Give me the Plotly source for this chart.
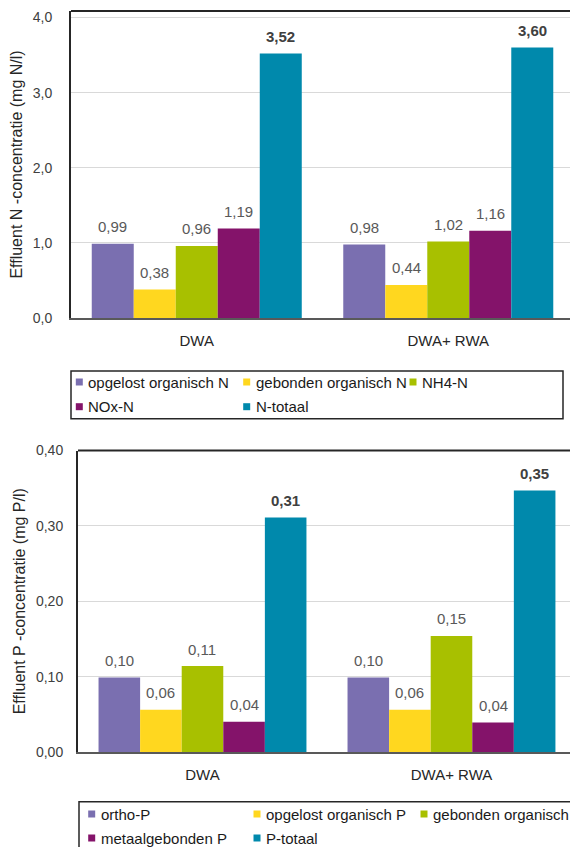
import plotly.graph_objects as go

# ---------------- data ----------------
categories = ["DWA", "DWA+ RWA"]

n_series = ["opgelost organisch N", "gebonden organisch N", "NH4-N", "NOx-N", "N-totaal"]
n_dwa = [0.99, 0.38, 0.96, 1.19, 3.52]
n_dwa_rwa = [0.98, 0.44, 1.02, 1.16, 3.60]

p_series = ["ortho-P", "opgelost organisch P", "gebonden organisch P", "metaalgebonden P", "P-totaal"]
p_dwa = [0.099, 0.056, 0.114, 0.040, 0.311]
p_dwa_rwa = [0.099, 0.056, 0.154, 0.039, 0.347]

n_ticks = [0, 1, 2, 3, 4]
p_ticks = [0.0, 0.1, 0.2, 0.3, 0.4]

colors = ["#7A6FB0", "#FFD71F", "#A8C000", "#84136A", "#0089AC"]

# ---------------- layout constants ----------------
W, H = 570, 847
FONT = "Liberation Sans, Arial, sans-serif"
BARGAP = 0.165


def px(x):
    return x / W


def py(y):
    return 1 - y / H


top = dict(left=71, top=11, bottom=318, yrange=[0, 4.087], xrange=[-0.5, 1.484])
bot = dict(left=78, top=450.5, bottom=752, yrange=[0, 0.40], xrange=[-0.5, 1.476])

fig = go.Figure()

panels = [
    (top, "x", "y", n_series, [n_dwa, n_dwa_rwa], "{:.2f}"),
    (bot, "x2", "y2", p_series, [p_dwa, p_dwa_rwa], "{:.2f}"),
]

annotations = []
for cfg, xa, ya, names, vals, fmt in panels:
    plot_w = W * (1 - px(cfg["left"]))
    cat_px = plot_w / (cfg["xrange"][1] - cfg["xrange"][0])
    bar_px = cat_px * (1 - BARGAP) / len(names)
    for i, name in enumerate(names):
        ys = [vals[0][i], vals[1][i]]
        fig.add_trace(go.Bar(
            x=categories, y=ys, name=name, xaxis=xa, yaxis=ya,
            marker=dict(color=colors[i], line=dict(width=0)),
            showlegend=False,
        ))
        for c, v in zip(categories, ys):
            bold = i == len(names) - 1
            txt = fmt.format(v).replace(".", ",")
            annotations.append(dict(
                x=c, y=v, xref=xa, yref=ya,
                xshift=(i - (len(names) - 1) / 2) * bar_px, yshift=17,
                text=f"<b>{txt}</b>" if bold else txt,
                showarrow=False, yanchor="middle", xanchor="center",
                font=dict(family=FONT, size=15, color="#404040" if bold else "#595959"),
            ))

shapes = []
# top frame lines
for cfg in (top, bot):
    shapes.append(dict(type="line", xref="paper", yref="paper",
                       x0=px(cfg["left"]), x1=1.02, y0=py(cfg["top"]), y1=py(cfg["top"]),
                       line=dict(color="#262626", width=2)))

# ---------------- custom legends ----------------
legends = [
    dict(names=n_series, box=(71, 371, 563, 418.7), rows=[382, 406.7],
         cols=[79.3, 246.7, 413]),
    dict(names=p_series, box=(79, 801.7, 600, 870), rows=[814, 838],
         cols=[91.7, 257, 424]),
]
for lg in legends:
    x0, y0, x1, y1 = lg["box"]
    shapes.append(dict(type="rect", xref="paper", yref="paper",
                       x0=px(x0), x1=px(x1), y0=py(y0), y1=py(y1),
                       line=dict(color="#262626", width=1.5), fillcolor="rgba(0,0,0,0)"))
    for k, name in enumerate(lg["names"]):
        r, c = divmod(k, 3)
        cx, cy = lg["cols"][c], lg["rows"][r]
        shapes.append(dict(type="rect", xref="paper", yref="paper",
                           x0=px(cx - 3.5), x1=px(cx + 3.5), y0=py(cy - 3.5), y1=py(cy + 3.5),
                           line=dict(width=0), fillcolor=colors[k]))
        annotations.append(dict(
            x=px(cx + 7), y=py(cy), xref="paper", yref="paper",
            text=name, showarrow=False, xanchor="left", yanchor="middle",
            font=dict(family=FONT, size=15, color="#1A1A1A"),
        ))

axis_common = dict(showgrid=False, zeroline=False, fixedrange=True,
                   tickfont=dict(family=FONT, size=15, color="#262626"),
                   showline=True, linecolor="#595959", linewidth=2,
                   ticks="", ticklabelstandoff=8)
yaxis_common = dict(showgrid=True, gridcolor="#D9D9D9", gridwidth=1, zeroline=False,
                    showline=True, linecolor="#262626", linewidth=2, ticks="",
                    fixedrange=True,
                    tickfont=dict(family=FONT, size=14, color="#404040"))

fig.update_layout(
    width=W, height=H,
    margin=dict(l=0, r=0, t=0, b=0, pad=0, autoexpand=False),
    paper_bgcolor="white", plot_bgcolor="white",
    separators=",.",
    barmode="group", bargap=BARGAP, bargroupgap=0,
    showlegend=False,
    hovermode=False,
    font=dict(family=FONT),
    xaxis=dict(domain=[px(top["left"]), 1], range=top["xrange"], anchor="y", **axis_common),
    yaxis=dict(domain=[py(top["bottom"]), py(top["top"])], range=top["yrange"], anchor="x",
               tickvals=n_ticks, tickformat=".1f", ticklabelstandoff=14,
               title=dict(text="Effluent N -concentratie (mg N/l)", standoff=6,
                          font=dict(family=FONT, size=16, color="#262626")),
               **yaxis_common),
    xaxis2=dict(domain=[px(bot["left"]), 1], range=bot["xrange"], anchor="y2", **axis_common),
    yaxis2=dict(domain=[py(bot["bottom"]), py(bot["top"])], range=bot["yrange"], anchor="x2",
                tickvals=p_ticks, tickformat=".2f", ticklabelstandoff=10,
                title=dict(text="Effluent P -concentratie (mg P/l)", standoff=6,
                           font=dict(family=FONT, size=16, color="#262626")),
                **yaxis_common),
    annotations=annotations,
    shapes=shapes,
)

fig.write_html(
    "out.html",
    config={"displayModeBar": False, "staticPlot": True},
    post_script="document.body.style.margin='0';document.body.style.overflow='hidden';",
)
